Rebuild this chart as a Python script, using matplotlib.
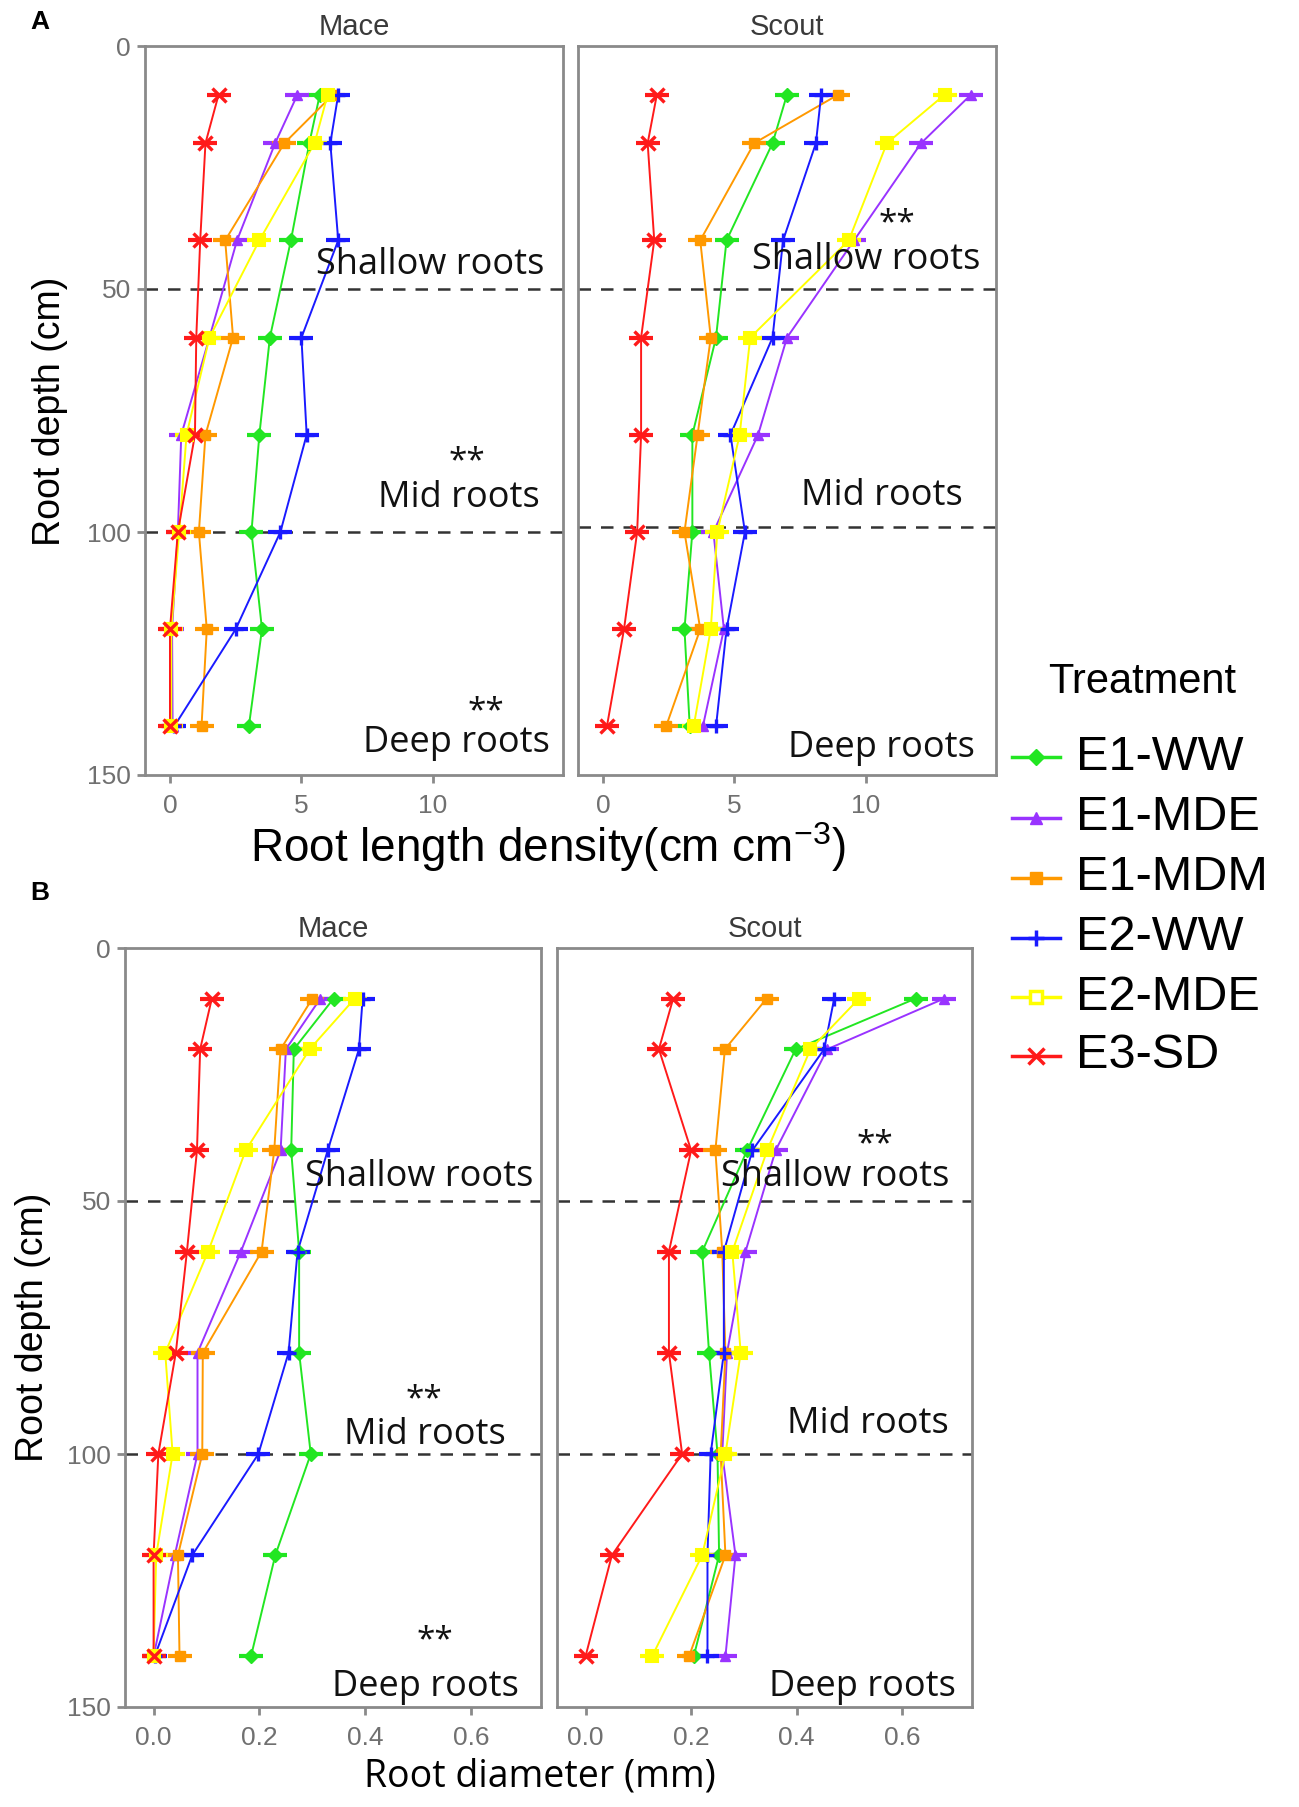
import matplotlib
matplotlib.use("Agg")
import matplotlib.pyplot as plt
from matplotlib.lines import Line2D

# ---------------- data ----------------
depths = [10, 20, 40, 60, 80, 100, 120, 140]
treatments = ["E1-WW", "E1-MDE", "E1-MDM", "E2-WW", "E2-MDE", "E3-SD"]
colors = ["#22E622", "#9933FF", "#FF9900", "#1A1AFF", "#FFFF00", "#FF1A1A"]
markers = ["D", "^", "s", "+", "s", "x"]

# Root length density (cm cm-3)
rld_mace = {
    "E1-WW":  [5.7, 5.3, 4.6, 3.8, 3.4, 3.1, 3.5, 3.0],
    "E1-MDE": [4.85, 4.0, 2.55, 1.5, 0.43, 0.3, 0.08, 0.1],
    "E1-MDM": [6.2, 4.35, 2.1, 2.4, 1.35, 1.1, 1.4, 1.2],
    "E2-WW":  [6.4, 6.1, 6.4, 5.0, 5.2, 4.2, 2.5, 0.16],
    "E2-MDE": [6.0, 5.5, 3.4, 1.5, 0.63, 0.35, 0.05, 0.05],
    "E3-SD":  [1.85, 1.35, 1.15, 1.0, 0.95, 0.3, 0.0, 0.0],
}
rld_scout = {
    "E1-WW":  [7.0, 6.45, 4.7, 4.3, 3.4, 3.4, 3.1, 3.3],
    "E1-MDE": [14.0, 12.1, 9.55, 7.0, 5.9, 4.2, 4.6, 3.8],
    "E1-MDM": [8.95, 5.75, 3.7, 4.1, 3.6, 3.1, 3.7, 2.4],
    "E2-WW":  [8.3, 8.1, 6.85, 6.45, 4.85, 5.4, 4.7, 4.3],
    "E2-MDE": [13.0, 10.8, 9.35, 5.6, 5.2, 4.35, 4.1, 3.45],
    "E3-SD":  [2.05, 1.7, 1.95, 1.45, 1.45, 1.3, 0.8, 0.15],
}
# Root diameter (mm)
rd_mace = {
    "E1-WW":  [0.34, 0.265, 0.26, 0.275, 0.275, 0.297, 0.23, 0.184],
    "E1-MDE": [0.315, 0.25, 0.24, 0.165, 0.083, 0.083, 0.04, 0.0],
    "E1-MDM": [0.30, 0.24, 0.228, 0.204, 0.093, 0.092, 0.046, 0.049],
    "E2-WW":  [0.395, 0.388, 0.329, 0.272, 0.255, 0.198, 0.073, 0.002],
    "E2-MDE": [0.38, 0.295, 0.174, 0.103, 0.022, 0.036, 0.005, 0.0],
    "E3-SD":  [0.11, 0.088, 0.082, 0.063, 0.042, 0.009, 0.0, 0.0],
}
rd_scout = {
    "E1-WW":  [0.625, 0.398, 0.306, 0.221, 0.234, 0.25, 0.253, 0.205],
    "E1-MDE": [0.679, 0.458, 0.36, 0.303, 0.268, 0.259, 0.284, 0.265],
    "E1-MDM": [0.343, 0.264, 0.246, 0.259, 0.265, 0.256, 0.265, 0.196],
    "E2-WW":  [0.471, 0.452, 0.316, 0.262, 0.262, 0.237, 0.231, 0.231],
    "E2-MDE": [0.518, 0.426, 0.344, 0.278, 0.294, 0.265, 0.221, 0.126],
    "E3-SD":  [0.166, 0.139, 0.2, 0.158, 0.158, 0.183, 0.05, 0.0],
}

facets = ["Mace", "Scout"]
zone_lines_A = {"Mace": [50, 100], "Scout": [50, 99]}
zone_lines_B = [50, 100]

# annotations: (x, depth, text)
ann_A = {
    "Mace": [(9.9, 45, "Shallow roots"), (11.3, 85.5, "**"), (11.0, 93, "Mid roots"),
             (12.0, 137, "**"), (10.9, 143.5, "Deep roots")],
    "Scout": [(11.2, 36.5, "**"), (10.0, 44, "Shallow roots"), (10.6, 92.5, "Mid roots"),
              (10.6, 144.5, "Deep roots")],
}
ann_B = {
    "Mace": [(0.502, 45.3, "Shallow roots"), (0.511, 89.3, "**"), (0.513, 96.2, "Mid roots"),
             (0.532, 137, "**"), (0.513, 146, "Deep roots")],
    "Scout": [(0.549, 38.9, "**"), (0.473, 45.3, "Shallow roots"), (0.534, 94, "Mid roots"),
              (0.524, 146, "Deep roots")],
}

A_xticks = [0, 5, 10]
B_xticks = [0.0, 0.2, 0.4, 0.6]
yticks = [0, 50, 100, 150]

# ---------------- figure ----------------
W, H = 1299, 1807
fig = plt.figure(figsize=(W / 100, H / 100), dpi=100)
fig.patch.set_facecolor("white")

TICK_COL = "#707070"
FRAME_COL = "#8A8A8A"


def px_axes(x0, y0, x1, y1):
    return fig.add_axes([x0 / W, 1 - y1 / H, (x1 - x0) / W, (y1 - y0) / H])


def draw_series(ax, data):
    for t, c, m in zip(treatments, colors, markers):
        vals = data[t]
        ax.plot(vals, depths, color=c, lw=1.4, zorder=3)
        ax.plot(vals, depths, linestyle="none", marker="_", ms=17, mew=3, color=c, zorder=4)
        if t == "E2-MDE":
            ax.plot(vals, depths, linestyle="none", marker=m, ms=8, mfc=c, mec=c, mew=1.5, zorder=5)
        elif m in ("+", "x"):
            ax.plot(vals, depths, linestyle="none", marker=m, ms=10, color=c, mew=2.4, zorder=5)
        else:
            ax.plot(vals, depths, linestyle="none", marker=m, ms=7, color=c, zorder=5)


def style_axes(ax, xlim, xticks, xticklabels, show_y):
    ax.set_xlim(*xlim)
    ax.set_ylim(150, 0)
    ax.set_xticks(xticks)
    ax.set_xticklabels(xticklabels)
    ax.set_yticks(yticks)
    for s in ax.spines.values():
        s.set_color(FRAME_COL)
        s.set_linewidth(2.0)
    ax.tick_params(axis="both", colors=FRAME_COL, length=6, width=2,
                   labelcolor=TICK_COL, labelsize=19)
    ax.tick_params(axis="x", pad=8)
    ax.tick_params(axis="y", pad=4)
    if show_y:
        ax.set_yticklabels([str(v) for v in yticks])
    else:
        ax.tick_params(axis="y", left=False, labelleft=False)
    for lab in ax.get_xticklabels() + ax.get_yticklabels():
        lab.set_family("Liberation Sans")


A_pos = {"Mace": (145, 46, 563, 775), "Scout": (578, 46, 996, 775)}
B_pos = {"Mace": (125, 948, 541, 1707), "Scout": (557, 948, 972, 1707)}

ANN_FS = 26
STAR_FS = 24

for i, f in enumerate(facets):
    ax = px_axes(*A_pos[f])
    draw_series(ax, rld_mace if f == "Mace" else rld_scout)
    for yl in zone_lines_A[f]:
        ax.axhline(yl, color="#333333", lw=1.8, ls=(0, (5, 4)), zorder=2)
    for x, d, t in ann_A[f]:
        ax.text(x, d, t, ha="center", va="center", fontsize=ANN_FS if t != "**" else STAR_FS,
                family="Open Sans", color="#111111", zorder=6)
    style_axes(ax, (-0.95, 14.95), A_xticks, [str(v) for v in A_xticks], i == 0)
    ax.set_title(f, fontsize=21, color="#3A3A3A", family="Liberation Sans", pad=8)

for i, f in enumerate(facets):
    ax = px_axes(*B_pos[f])
    draw_series(ax, rd_mace if f == "Mace" else rd_scout)
    for yl in zone_lines_B:
        ax.axhline(yl, color="#333333", lw=1.8, ls=(0, (5, 4)), zorder=2)
    for x, d, t in ann_B[f]:
        ax.text(x, d, t, ha="center", va="center", fontsize=ANN_FS if t != "**" else STAR_FS,
                family="Open Sans", color="#111111", zorder=6)
    style_axes(ax, (-0.054, 0.732), B_xticks, ["%.1f" % v for v in B_xticks], i == 0)
    ax.set_title(f, fontsize=21, color="#3A3A3A", family="Liberation Sans", pad=8)

# axis titles
fig.text(548 / W, 1 - 847 / H, "Root length density(cm cm$^{\\mathregular{-3}}$)",
         ha="center", va="center", fontsize=33, family="Liberation Sans")
fig.text(540 / W, 1 - 1777 / H, "Root diameter (mm)", ha="center", va="center",
         fontsize=27, family="Open Sans")
fig.text(50 / W, 1 - 411 / H, "Root depth (cm)", ha="center", va="center",
         rotation=90, fontsize=27, family="Liberation Sans")
fig.text(33 / W, 1 - 1327 / H, "Root depth (cm)", ha="center", va="center",
         rotation=90, fontsize=27, family="Liberation Sans")

# panel letters
fig.text(30 / W, 1 - 22 / H, "A", ha="left", va="center", fontsize=19,
         fontweight="bold", family="Liberation Sans")
fig.text(30 / W, 1 - 893 / H, "B", ha="left", va="center", fontsize=19,
         fontweight="bold", family="Liberation Sans")

# legend
fig.text(1048 / W, 1 - 682 / H, "Treatment", ha="left", va="center", fontsize=30,
         family="Liberation Sans")
leg_y = [757, 818, 878, 938, 997, 1056]
for t, c, m, yy in zip(treatments, colors, markers, leg_y):
    yf = 1 - yy / H
    fig.add_artist(Line2D([1012 / W, 1060 / W], [yf, yf], color=c, lw=2.5,
                          transform=fig.transFigure))
    if t == "E2-MDE":
        mk = dict(marker="s", ms=9, mfc="white", mec=c, mew=2.5)
    elif m in ("+", "x"):
        mk = dict(marker=m, ms=12, color=c, mew=2.5)
    else:
        mk = dict(marker=m, ms=8, color=c)
    fig.add_artist(Line2D([1036 / W], [yf], linestyle="none",
                          transform=fig.transFigure, **mk))
    fig.text(1076 / W, yf, t, ha="left", va="center", fontsize=35,
             family="Liberation Sans")

fig.savefig("out.png", dpi=100, facecolor="white")
